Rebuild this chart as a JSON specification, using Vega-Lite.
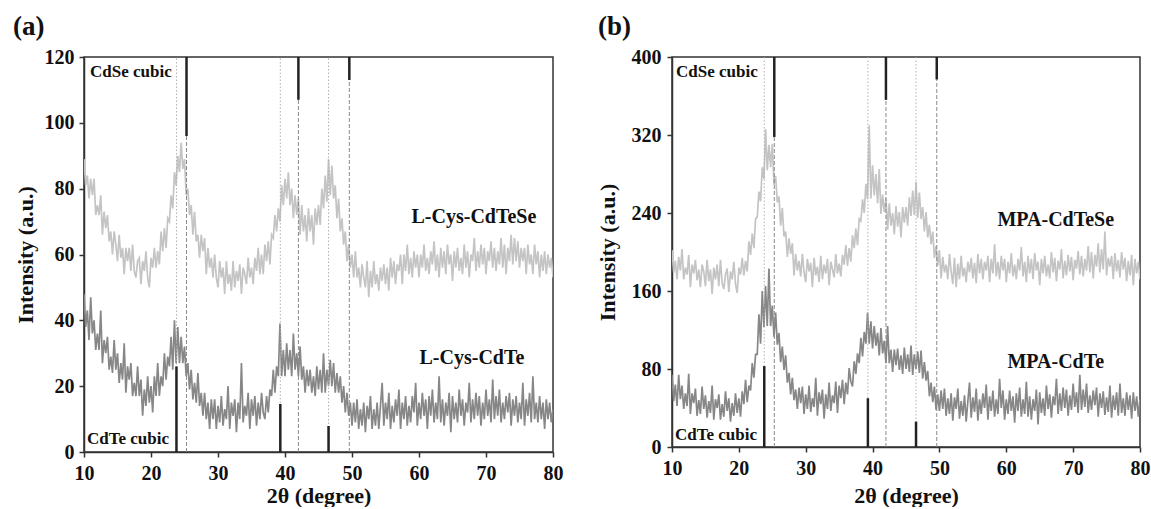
{
"$schema": "https://vega.github.io/schema/vega-lite/v6.json",
"background": "white",
"padding": {"left": 12, "top": 12, "right": 5, "bottom": 0},
"spacing": 31,
"config": {
  "font": "Liberation Serif",
  "view": {"stroke": "#333", "strokeWidth": 1.5},
  "axis": {"domainColor": "#333", "domainWidth": 1.5, "tickColor": "#333", "tickWidth": 1.5, "tickSize": 5, "labelFont": "Liberation Serif", "labelFontSize": 20, "labelFontWeight": "bold", "labelColor": "#111", "titleFont": "Liberation Serif", "titleFontSize": 22, "titleFontWeight": "bold", "titleColor": "#111", "grid": false},
  "title": {"font": "Liberation Serif", "fontSize": 27, "fontWeight": "bold", "anchor": "start", "frame": "group", "color": "#111"},
  "text": {"font": "Liberation Serif", "fontWeight": "bold", "color": "#111"}
},
"datasets": {
  "a": [
{"x":10,"t":89,"c":48},{"x":10.25,"t":81,"c":38},{"x":10.5,"t":84,"c":43},{"x":10.75,"t":77,"c":34},{"x":11,"t":83,"c":47},{"x":11.25,"t":78,"c":36},{"x":11.5,"t":83,"c":40},{"x":11.75,"t":72,"c":31},{"x":12,"t":75,"c":36},{"x":12.25,"t":72,"c":31},{"x":12.5,"t":78,"c":43},{"x":12.75,"t":66,"c":27},{"x":13,"t":73,"c":34},{"x":13.25,"t":68,"c":30},{"x":13.5,"t":72,"c":35},{"x":13.75,"t":64,"c":25},{"x":14,"t":67,"c":29},{"x":14.25,"t":60,"c":24},{"x":14.5,"t":67,"c":34},{"x":14.75,"t":63,"c":25},{"x":15,"t":58,"c":30},{"x":15.25,"t":66,"c":21},{"x":15.5,"t":59,"c":27},{"x":15.75,"t":62,"c":22},{"x":16,"t":54,"c":33},{"x":16.25,"t":62,"c":18},{"x":16.5,"t":58,"c":26},{"x":16.75,"t":62,"c":22},{"x":17,"t":55,"c":27},{"x":17.25,"t":63,"c":17},{"x":17.5,"t":55,"c":21},{"x":17.75,"t":53,"c":17},{"x":18,"t":58,"c":26},{"x":18.25,"t":59,"c":17},{"x":18.5,"t":51,"c":22},{"x":18.75,"t":58,"c":11},{"x":19,"t":55,"c":19},{"x":19.25,"t":61,"c":14},{"x":19.5,"t":53,"c":23},{"x":19.75,"t":50,"c":15},
{"x":20,"t":59,"c":20},{"x":20.25,"t":56,"c":12},{"x":20.5,"t":62,"c":23},{"x":20.75,"t":56,"c":17},{"x":21,"t":61,"c":27},{"x":21.25,"t":57,"c":17},{"x":21.5,"t":67,"c":23},{"x":21.75,"t":61,"c":20},{"x":22,"t":68,"c":30},{"x":22.25,"t":62,"c":22},{"x":22.5,"t":71,"c":29},{"x":22.75,"t":70,"c":26},{"x":23,"t":78,"c":35},{"x":23.25,"t":74,"c":25},{"x":23.5,"t":85,"c":40},{"x":23.75,"t":81,"c":27},{"x":24,"t":90,"c":38},{"x":24.25,"t":85,"c":27},{"x":24.5,"t":94,"c":35},{"x":24.75,"t":86,"c":27},{"x":25,"t":89,"c":32},{"x":25.25,"t":78,"c":23},{"x":25.5,"t":80,"c":27},{"x":25.75,"t":72,"c":19},{"x":26,"t":75,"c":25},{"x":26.25,"t":66,"c":16},{"x":26.5,"t":73,"c":21},{"x":26.75,"t":64,"c":15},{"x":27,"t":66,"c":24},{"x":27.25,"t":59,"c":14},{"x":27.5,"t":66,"c":18},{"x":27.75,"t":61,"c":11},{"x":28,"t":65,"c":18},{"x":28.25,"t":54,"c":10},{"x":28.5,"t":62,"c":15},{"x":28.75,"t":56,"c":7},{"x":29,"t":59,"c":16},{"x":29.25,"t":53,"c":10},{"x":29.5,"t":60,"c":16},{"x":29.75,"t":53,"c":7},
{"x":30,"t":50,"c":14},{"x":30.25,"t":58,"c":9},{"x":30.5,"t":53,"c":17},{"x":30.75,"t":56,"c":8},{"x":31,"t":48,"c":13},{"x":31.25,"t":58,"c":10},{"x":31.5,"t":51,"c":20},{"x":31.75,"t":54,"c":7},{"x":32,"t":49,"c":15},{"x":32.25,"t":58,"c":11},{"x":32.5,"t":50,"c":16},{"x":32.75,"t":55,"c":6},{"x":33,"t":52,"c":15},{"x":33.25,"t":57,"c":10},{"x":33.5,"t":48,"c":27},{"x":33.75,"t":56,"c":9},{"x":34,"t":54,"c":14},{"x":34.25,"t":51,"c":11},{"x":34.5,"t":59,"c":18},{"x":34.75,"t":53,"c":7},{"x":35,"t":56,"c":16},{"x":35.25,"t":51,"c":11},{"x":35.5,"t":59,"c":17},{"x":35.75,"t":55,"c":8},{"x":36,"t":62,"c":15},{"x":36.25,"t":54,"c":10},{"x":36.5,"t":60,"c":18},{"x":36.75,"t":54,"c":12},{"x":37,"t":63,"c":10},{"x":37.25,"t":58,"c":17},{"x":37.5,"t":64,"c":12},{"x":37.75,"t":57,"c":19},{"x":38,"t":66,"c":17},{"x":38.25,"t":65,"c":25},{"x":38.5,"t":72,"c":18},{"x":38.75,"t":67,"c":26},{"x":39,"t":74,"c":23},{"x":39.25,"t":70,"c":39},{"x":39.5,"t":81,"c":23},{"x":39.75,"t":75,"c":31},
{"x":40,"t":83,"c":23},{"x":40.25,"t":77,"c":33},{"x":40.5,"t":85,"c":25},{"x":40.75,"t":75,"c":31},{"x":41,"t":80,"c":23},{"x":41.25,"t":71,"c":36},{"x":41.5,"t":78,"c":25},{"x":41.75,"t":72,"c":30},{"x":42,"t":77,"c":23},{"x":42.25,"t":66,"c":32},{"x":42.5,"t":75,"c":22},{"x":42.75,"t":67,"c":26},{"x":43,"t":72,"c":18},{"x":43.25,"t":64,"c":25},{"x":43.5,"t":74,"c":20},{"x":43.75,"t":67,"c":25},{"x":44,"t":72,"c":18},{"x":44.25,"t":63,"c":23},{"x":44.5,"t":74,"c":17},{"x":44.75,"t":69,"c":26},{"x":45,"t":75,"c":19},{"x":45.25,"t":69,"c":25},{"x":45.5,"t":80,"c":18},{"x":45.75,"t":74,"c":30},{"x":46,"t":84,"c":18},{"x":46.25,"t":76,"c":25},{"x":46.5,"t":89,"c":20},{"x":46.75,"t":78,"c":28},{"x":47,"t":87,"c":20},{"x":47.25,"t":77,"c":27},{"x":47.5,"t":81,"c":18},{"x":47.75,"t":71,"c":24},{"x":48,"t":77,"c":18},{"x":48.25,"t":67,"c":23},{"x":48.5,"t":71,"c":15},{"x":48.75,"t":63,"c":20},{"x":49,"t":67,"c":12},{"x":49.25,"t":58,"c":18},{"x":49.5,"t":63,"c":11},{"x":49.75,"t":56,"c":15},
{"x":50,"t":60,"c":8},{"x":50.25,"t":53,"c":15},{"x":50.5,"t":61,"c":9},{"x":50.75,"t":53,"c":16},{"x":51,"t":56,"c":7},{"x":51.25,"t":50,"c":13},{"x":51.5,"t":57,"c":8},{"x":51.75,"t":53,"c":15},{"x":52,"t":50,"c":6},{"x":52.25,"t":58,"c":14},{"x":52.5,"t":47,"c":10},{"x":52.75,"t":55,"c":17},{"x":53,"t":50,"c":7},{"x":53.25,"t":58,"c":13},{"x":53.5,"t":51,"c":8},{"x":53.75,"t":54,"c":15},{"x":54,"t":49,"c":7},{"x":54.25,"t":56,"c":14},{"x":54.5,"t":52,"c":21},{"x":54.75,"t":57,"c":8},{"x":55,"t":51,"c":15},{"x":55.25,"t":56,"c":10},{"x":55.5,"t":49,"c":18},{"x":55.75,"t":59,"c":7},{"x":56,"t":53,"c":14},{"x":56.25,"t":58,"c":9},{"x":56.5,"t":51,"c":16},{"x":56.75,"t":57,"c":11},{"x":57,"t":55,"c":19},{"x":57.25,"t":60,"c":7},{"x":57.5,"t":51,"c":15},{"x":57.75,"t":60,"c":10},{"x":58,"t":55,"c":17},{"x":58.25,"t":63,"c":8},{"x":58.5,"t":54,"c":14},{"x":58.75,"t":59,"c":9},{"x":59,"t":53,"c":17},{"x":59.25,"t":61,"c":12},{"x":59.5,"t":56,"c":21},{"x":59.75,"t":60,"c":8},
{"x":60,"t":53,"c":15},{"x":60.25,"t":60,"c":10},{"x":60.5,"t":56,"c":18},{"x":60.75,"t":63,"c":11},{"x":61,"t":55,"c":16},{"x":61.25,"t":59,"c":7},{"x":61.5,"t":54,"c":17},{"x":61.75,"t":61,"c":11},{"x":62,"t":57,"c":19},{"x":62.25,"t":64,"c":9},{"x":62.5,"t":55,"c":15},{"x":62.75,"t":60,"c":10},{"x":63,"t":53,"c":23},{"x":63.25,"t":62,"c":9},{"x":63.5,"t":56,"c":16},{"x":63.75,"t":61,"c":8},{"x":64,"t":54,"c":15},{"x":64.25,"t":63,"c":11},{"x":64.5,"t":57,"c":18},{"x":64.75,"t":60,"c":6},{"x":65,"t":52,"c":17},{"x":65.25,"t":61,"c":10},{"x":65.5,"t":56,"c":15},{"x":65.75,"t":62,"c":9},{"x":66,"t":55,"c":19},{"x":66.25,"t":59,"c":11},{"x":66.5,"t":54,"c":16},{"x":66.75,"t":63,"c":8},{"x":67,"t":56,"c":15},{"x":67.25,"t":61,"c":12},{"x":67.5,"t":53,"c":21},{"x":67.75,"t":60,"c":9},{"x":68,"t":58,"c":16},{"x":68.25,"t":65,"c":10},{"x":68.5,"t":55,"c":18},{"x":68.75,"t":61,"c":11},{"x":69,"t":56,"c":17},{"x":69.25,"t":63,"c":8},{"x":69.5,"t":57,"c":15},{"x":69.75,"t":62,"c":10},
{"x":70,"t":54,"c":19},{"x":70.25,"t":61,"c":11},{"x":70.5,"t":58,"c":16},{"x":70.75,"t":64,"c":9},{"x":71,"t":56,"c":22},{"x":71.25,"t":62,"c":10},{"x":71.5,"t":55,"c":17},{"x":71.75,"t":61,"c":11},{"x":72,"t":57,"c":19},{"x":72.25,"t":65,"c":9},{"x":72.5,"t":56,"c":15},{"x":72.75,"t":63,"c":10},{"x":73,"t":54,"c":17},{"x":73.25,"t":62,"c":12},{"x":73.5,"t":58,"c":18},{"x":73.75,"t":66,"c":8},{"x":74,"t":57,"c":16},{"x":74.25,"t":65,"c":11},{"x":74.5,"t":58,"c":17},{"x":74.75,"t":64,"c":9},{"x":75,"t":56,"c":15},{"x":75.25,"t":62,"c":10},{"x":75.5,"t":58,"c":21},{"x":75.75,"t":62,"c":8},{"x":76,"t":54,"c":16},{"x":76.25,"t":63,"c":11},{"x":76.5,"t":57,"c":18},{"x":76.75,"t":60,"c":9},{"x":77,"t":54,"c":23},{"x":77.25,"t":63,"c":10},{"x":77.5,"t":57,"c":15},{"x":77.75,"t":61,"c":9},{"x":78,"t":53,"c":17},{"x":78.25,"t":60,"c":10},{"x":78.5,"t":55,"c":15},{"x":78.75,"t":61,"c":7},{"x":79,"t":54,"c":16},{"x":79.25,"t":60,"c":10},{"x":79.5,"t":56,"c":15},{"x":79.75,"t":59,"c":9},{"x":80,"t":53,"c":13}
  ],
  "b": [
{"x":10,"t":202,"c":74},{"x":10.25,"t":179,"c":47},{"x":10.5,"t":191,"c":64},{"x":10.75,"t":172,"c":42},{"x":11,"t":195,"c":74},{"x":11.25,"t":181,"c":49},{"x":11.5,"t":203,"c":63},{"x":11.75,"t":172,"c":39},{"x":12,"t":184,"c":55},{"x":12.25,"t":177,"c":42},{"x":12.5,"t":197,"c":75},{"x":12.75,"t":164,"c":34},{"x":13,"t":187,"c":55},{"x":13.25,"t":178,"c":45},{"x":13.5,"t":192,"c":60},{"x":13.75,"t":171,"c":32},{"x":14,"t":182,"c":48},{"x":14.25,"t":164,"c":34},{"x":14.5,"t":187,"c":62},{"x":14.75,"t":180,"c":39},{"x":15,"t":165,"c":53},{"x":15.25,"t":192,"c":30},{"x":15.5,"t":170,"c":47},{"x":15.75,"t":182,"c":35},{"x":16,"t":157,"c":63},{"x":16.25,"t":184,"c":28},{"x":16.5,"t":172,"c":49},{"x":16.75,"t":187,"c":40},{"x":17,"t":165,"c":54},{"x":17.25,"t":192,"c":28},{"x":17.5,"t":168,"c":44},{"x":17.75,"t":162,"c":31},{"x":18,"t":177,"c":57},{"x":18.25,"t":183,"c":37},{"x":18.5,"t":159,"c":50},{"x":18.75,"t":180,"c":26},{"x":19,"t":172,"c":45},{"x":19.25,"t":190,"c":32},{"x":19.5,"t":167,"c":55},{"x":19.75,"t":158,"c":35},
{"x":20,"t":184,"c":50},{"x":20.25,"t":177,"c":31},{"x":20.5,"t":194,"c":57},{"x":20.75,"t":176,"c":44},{"x":21,"t":191,"c":69},{"x":21.25,"t":180,"c":46},{"x":21.5,"t":211,"c":63},{"x":21.75,"t":197,"c":58},{"x":22,"t":219,"c":86},{"x":22.25,"t":204,"c":71},{"x":22.5,"t":234,"c":95},{"x":22.75,"t":236,"c":95},{"x":23,"t":262,"c":136},{"x":23.25,"t":252,"c":106},{"x":23.5,"t":287,"c":160},{"x":23.75,"t":275,"c":123},{"x":24,"t":326,"c":165},{"x":24.25,"t":284,"c":124},{"x":24.5,"t":310,"c":183},{"x":24.75,"t":287,"c":124},{"x":25,"t":311,"c":145},{"x":25.25,"t":269,"c":113},{"x":25.5,"t":278,"c":138},{"x":25.75,"t":251,"c":105},{"x":26,"t":257,"c":117},{"x":26.25,"t":227,"c":87},{"x":26.5,"t":245,"c":103},{"x":26.75,"t":216,"c":79},{"x":27,"t":221,"c":94},{"x":27.25,"t":195,"c":66},{"x":27.5,"t":214,"c":76},{"x":27.75,"t":198,"c":54},{"x":28,"t":209,"c":71},{"x":28.25,"t":176,"c":48},{"x":28.5,"t":198,"c":59},{"x":28.75,"t":181,"c":39},{"x":29,"t":191,"c":61},{"x":29.25,"t":175,"c":45},{"x":29.5,"t":198,"c":62},{"x":29.75,"t":179,"c":34},
{"x":30,"t":169,"c":54},{"x":30.25,"t":193,"c":39},{"x":30.5,"t":180,"c":63},{"x":30.75,"t":189,"c":36},{"x":31,"t":164,"c":50},{"x":31.25,"t":194,"c":41},{"x":31.5,"t":176,"c":71},{"x":31.75,"t":185,"c":32},{"x":32,"t":169,"c":56},{"x":32.25,"t":196,"c":44},{"x":32.5,"t":172,"c":59},{"x":32.75,"t":187,"c":29},{"x":33,"t":178,"c":54},{"x":33.25,"t":193,"c":39},{"x":33.5,"t":166,"c":66},{"x":33.75,"t":190,"c":37},{"x":34,"t":182,"c":53},{"x":34.25,"t":174,"c":45},{"x":34.5,"t":198,"c":67},{"x":34.75,"t":178,"c":35},{"x":35,"t":188,"c":63},{"x":35.25,"t":175,"c":50},{"x":35.5,"t":197,"c":69},{"x":35.75,"t":187,"c":44},{"x":36,"t":207,"c":66},{"x":36.25,"t":186,"c":54},{"x":36.5,"t":204,"c":81},{"x":36.75,"t":190,"c":67},{"x":37,"t":217,"c":62},{"x":37.25,"t":204,"c":88},{"x":37.5,"t":224,"c":75},{"x":37.75,"t":207,"c":96},{"x":38,"t":234,"c":86},{"x":38.25,"t":232,"c":112},{"x":38.5,"t":254,"c":93},{"x":38.75,"t":240,"c":118},{"x":39,"t":270,"c":106},{"x":39.25,"t":254,"c":138},{"x":39.5,"t":330,"c":106},{"x":39.75,"t":255,"c":129},
{"x":40,"t":289,"c":101},{"x":40.25,"t":258,"c":124},{"x":40.5,"t":280,"c":104},{"x":40.75,"t":250,"c":117},{"x":41,"t":285,"c":94},{"x":41.25,"t":239,"c":122},{"x":41.5,"t":259,"c":96},{"x":41.75,"t":241,"c":109},{"x":42,"t":255,"c":86},{"x":42.25,"t":223,"c":124},{"x":42.5,"t":250,"c":86},{"x":42.75,"t":227,"c":100},{"x":43,"t":240,"c":77},{"x":43.25,"t":218,"c":100},{"x":43.5,"t":247,"c":84},{"x":43.75,"t":226,"c":101},{"x":44,"t":241,"c":79},{"x":44.25,"t":215,"c":94},{"x":44.5,"t":246,"c":75},{"x":44.75,"t":230,"c":102},{"x":45,"t":246,"c":80},{"x":45.25,"t":227,"c":95},{"x":45.5,"t":256,"c":77},{"x":45.75,"t":237,"c":104},{"x":46,"t":263,"c":74},{"x":46.25,"t":238,"c":95},{"x":46.5,"t":272,"c":80},{"x":46.75,"t":235,"c":98},{"x":47,"t":261,"c":76},{"x":47.25,"t":234,"c":99},{"x":47.5,"t":246,"c":70},{"x":47.75,"t":221,"c":87},{"x":48,"t":241,"c":68},{"x":48.25,"t":215,"c":78},{"x":48.5,"t":228,"c":52},{"x":48.75,"t":208,"c":66},{"x":49,"t":221,"c":46},{"x":49.25,"t":194,"c":62},{"x":49.5,"t":206,"c":38},{"x":49.75,"t":186,"c":54},
{"x":50,"t":202,"c":37},{"x":50.25,"t":173,"c":58},{"x":50.5,"t":195,"c":39},{"x":50.75,"t":179,"c":60},{"x":51,"t":187,"c":32},{"x":51.25,"t":172,"c":50},{"x":51.5,"t":198,"c":34},{"x":51.75,"t":180,"c":55},{"x":52,"t":167,"c":27},{"x":52.25,"t":194,"c":51},{"x":52.5,"t":164,"c":39},{"x":52.75,"t":188,"c":60},{"x":53,"t":172,"c":29},{"x":53.25,"t":196,"c":47},{"x":53.5,"t":175,"c":32},{"x":53.75,"t":184,"c":53},{"x":54,"t":169,"c":26},{"x":54.25,"t":190,"c":47},{"x":54.5,"t":179,"c":66},{"x":54.75,"t":194,"c":30},{"x":55,"t":173,"c":51},{"x":55.25,"t":189,"c":36},{"x":55.5,"t":168,"c":60},{"x":55.75,"t":198,"c":27},{"x":56,"t":178,"c":49},{"x":56.25,"t":193,"c":34},{"x":56.5,"t":172,"c":55},{"x":56.75,"t":190,"c":40},{"x":57,"t":181,"c":64},{"x":57.25,"t":196,"c":28},{"x":57.5,"t":169,"c":52},{"x":57.75,"t":193,"c":37},{"x":58,"t":178,"c":58},{"x":58.25,"t":208,"c":31},{"x":58.5,"t":175,"c":49},{"x":58.75,"t":190,"c":34},{"x":59,"t":172,"c":70},{"x":59.25,"t":196,"c":40},{"x":59.5,"t":181,"c":58},{"x":59.75,"t":193,"c":28},
{"x":60,"t":169,"c":49},{"x":60.25,"t":190,"c":34},{"x":60.5,"t":178,"c":58},{"x":60.75,"t":199,"c":37},{"x":61,"t":175,"c":52},{"x":61.25,"t":187,"c":25},{"x":61.5,"t":172,"c":55},{"x":61.75,"t":193,"c":37},{"x":62,"t":181,"c":61},{"x":62.25,"t":205,"c":31},{"x":62.5,"t":175,"c":49},{"x":62.75,"t":190,"c":34},{"x":63,"t":169,"c":67},{"x":63.25,"t":196,"c":31},{"x":63.5,"t":178,"c":52},{"x":63.75,"t":193,"c":28},{"x":64,"t":172,"c":49},{"x":64.25,"t":199,"c":37},{"x":64.5,"t":181,"c":59},{"x":64.75,"t":190,"c":23},{"x":65,"t":166,"c":56},{"x":65.25,"t":193,"c":35},{"x":65.5,"t":178,"c":50},{"x":65.75,"t":196,"c":32},{"x":66,"t":175,"c":63},{"x":66.25,"t":187,"c":39},{"x":66.5,"t":173,"c":54},{"x":66.75,"t":200,"c":30},{"x":67,"t":179,"c":52},{"x":67.25,"t":194,"c":43},{"x":67.5,"t":170,"c":70},{"x":67.75,"t":191,"c":34},{"x":68,"t":182,"c":55},{"x":68.25,"t":203,"c":37},{"x":68.5,"t":173,"c":61},{"x":68.75,"t":191,"c":40},{"x":69,"t":176,"c":59},{"x":69.25,"t":197,"c":32},{"x":69.5,"t":180,"c":53},{"x":69.75,"t":195,"c":38},
{"x":70,"t":171,"c":65},{"x":70.25,"t":192,"c":41},{"x":70.5,"t":183,"c":56},{"x":70.75,"t":201,"c":35},{"x":71,"t":177,"c":74},{"x":71.25,"t":196,"c":38},{"x":71.5,"t":175,"c":59},{"x":71.75,"t":193,"c":41},{"x":72,"t":181,"c":65},{"x":72.25,"t":206,"c":35},{"x":72.5,"t":179,"c":53},{"x":72.75,"t":200,"c":38},{"x":73,"t":173,"c":58},{"x":73.25,"t":197,"c":43},{"x":73.5,"t":185,"c":61},{"x":73.75,"t":209,"c":31},{"x":74,"t":179,"c":55},{"x":74.25,"t":203,"c":40},{"x":74.5,"t":182,"c":57},{"x":74.75,"t":221,"c":33},{"x":75,"t":176,"c":51},{"x":75.25,"t":194,"c":36},{"x":75.5,"t":185,"c":63},{"x":75.75,"t":196,"c":30},{"x":76,"t":172,"c":53},{"x":76.25,"t":199,"c":38},{"x":76.5,"t":180,"c":56},{"x":76.75,"t":192,"c":32},{"x":77,"t":174,"c":65},{"x":77.25,"t":200,"c":35},{"x":77.5,"t":182,"c":50},{"x":77.75,"t":194,"c":32},{"x":78,"t":170,"c":56},{"x":78.25,"t":191,"c":38},{"x":78.5,"t":176,"c":53},{"x":78.75,"t":197,"c":29},{"x":79,"t":166,"c":56},{"x":79.25,"t":193,"c":37},{"x":79.5,"t":178,"c":52},{"x":79.75,"t":190,"c":31},{"x":80,"t":172,"c":49}
  ],
  "refA": [
    {"x":23.8,"p":"te","lo":0,"hi":26},{"x":39.3,"p":"te","lo":0,"hi":14.6},{"x":46.5,"p":"te","lo":0,"hi":7.9},
    {"x":25.3,"p":"se","lo":96,"hi":120},{"x":42.0,"p":"se","lo":107,"hi":120},{"x":49.6,"p":"se","lo":113,"hi":120}
  ],
  "refB": [
    {"x":23.8,"p":"te","lo":0,"hi":83},{"x":39.3,"p":"te","lo":0,"hi":50},{"x":46.5,"p":"te","lo":0,"hi":26},
    {"x":25.3,"p":"se","lo":318,"hi":400},{"x":42.0,"p":"se","lo":356,"hi":400},{"x":49.6,"p":"se","lo":377,"hi":400}
  ],
  "labA": [{"x":68.2,"y":71.4,"label":"L-Cys-CdTeSe"},{"x":67.9,"y":28.6,"label":"L-Cys-CdTe"}],
  "cubA": [{"x":10.9,"y":115.4,"label":"CdSe cubic"},{"x":10.45,"y":3.9,"label":"CdTe cubic"}],
  "labB": [{"x":67.4,"y":232.8,"label":"MPA-CdTeSe"},{"x":67.4,"y":87.2,"label":"MPA-CdTe"}],
  "cubB": [{"x":10.6,"y":384.6,"label":"CdSe cubic"},{"x":10.45,"y":12.3,"label":"CdTe cubic"}]
},
"hconcat": [
  {
    "width": 469, "height": 395,
    "title": {"text": "(a)", "dx": -71, "offset": 6},
    "layer": [
      {
        "data": {"name": "a"},
        "transform": [{"fold": ["t", "c"], "as": ["s", "v"]}],
        "mark": {"type": "line", "strokeWidth": 1.7, "clip": true},
        "encoding": {
          "x": {"field": "x", "type": "quantitative", "title": "2θ (degree)", "scale": {"domain": [10, 80], "nice": false, "zero": false},
                "axis": {"values": [10,15,20,25,30,35,40,45,50,55,60,65,70,75,80], "labelExpr": "datum.value % 10 == 0 ? datum.label : ''", "labelPadding": 6, "titlePadding": 2, "labelFlush": false, "labelFontWeight": "bold"}},
          "y": {"field": "v", "type": "quantitative", "title": "Intensity (a.u.)", "scale": {"domain": [0, 120], "nice": false},
                "axis": {"values": [0,10,20,30,40,50,60,70,80,90,100,110,120], "labelExpr": "datum.value % 20 == 0 ? datum.label : ''", "labelPadding": 5, "titlePadding": 7, "labelFlush": false, "labelFontWeight": "bold"}},
          "color": {"field": "s", "type": "nominal", "scale": {"domain": ["t", "c"], "range": ["#c4c4c4", "#878787"]}, "legend": null}
        }
      },
      {
        "data": {"name": "refA"},
        "transform": [{"filter": "datum.p == 'te'"}],
        "mark": {"type": "rule", "color": "#b0b0b0", "strokeWidth": 1, "strokeDash": [1.5, 2]},
        "encoding": {"x": {"field": "x", "type": "quantitative", "title": "2θ (degree)"}, "y": {"datum": 0, "type": "quantitative", "title": "Intensity (a.u.)"}, "y2": {"datum": 120}}
      },
      {
        "data": {"name": "refA"},
        "transform": [{"filter": "datum.p == 'se'"}],
        "mark": {"type": "rule", "color": "#8a8a8a", "strokeWidth": 1, "strokeDash": [4, 2]},
        "encoding": {"x": {"field": "x", "type": "quantitative", "title": "2θ (degree)"}, "y": {"datum": 0, "type": "quantitative", "title": "Intensity (a.u.)"}, "y2": {"datum": 120}}
      },
      {
        "data": {"name": "refA"},
        "mark": {"type": "rule", "color": "#222", "strokeWidth": 2.5},
        "encoding": {"x": {"field": "x", "type": "quantitative", "title": "2θ (degree)"}, "y": {"field": "lo", "type": "quantitative", "title": "Intensity (a.u.)"}, "y2": {"field": "hi"}}
      },
      {
        "data": {"name": "labA"},
        "mark": {"type": "text", "fontSize": 20, "align": "center", "baseline": "middle"},
        "encoding": {"x": {"field": "x", "type": "quantitative", "title": "2θ (degree)"}, "y": {"field": "y", "type": "quantitative", "title": "Intensity (a.u.)"}, "text": {"field": "label"}}
      },
      {
        "data": {"name": "cubA"},
        "mark": {"type": "text", "fontSize": 17, "align": "left", "baseline": "middle"},
        "encoding": {"x": {"field": "x", "type": "quantitative", "title": "2θ (degree)"}, "y": {"field": "y", "type": "quantitative", "title": "Intensity (a.u.)"}, "text": {"field": "label"}}
      }
    ]
  },
  {
    "width": 468, "height": 390,
    "title": {"text": "(b)", "dx": -74, "offset": 6},
    "layer": [
      {
        "data": {"name": "b"},
        "transform": [{"fold": ["t", "c"], "as": ["s", "v"]}],
        "mark": {"type": "line", "strokeWidth": 1.7, "clip": true},
        "encoding": {
          "x": {"field": "x", "type": "quantitative", "title": "2θ (degree)", "scale": {"domain": [10, 80], "nice": false, "zero": false},
                "axis": {"values": [10,15,20,25,30,35,40,45,50,55,60,65,70,75,80], "labelExpr": "datum.value % 10 == 0 ? datum.label : ''", "labelPadding": 6, "titlePadding": 7, "labelFlush": false, "labelFontWeight": "bold"}},
          "y": {"field": "v", "type": "quantitative", "title": "Intensity (a.u.)", "scale": {"domain": [0, 400], "nice": false},
                "axis": {"values": [0,40,80,120,160,200,240,280,320,360,400], "labelExpr": "datum.value % 80 == 0 ? datum.label : ''", "labelPadding": 6, "titlePadding": 12, "labelFlush": false, "labelFontWeight": "bold"}},
          "color": {"field": "s", "type": "nominal", "scale": {"domain": ["t", "c"], "range": ["#c6c6c6", "#808080"]}, "legend": null}
        }
      },
      {
        "data": {"name": "refB"},
        "transform": [{"filter": "datum.p == 'te'"}],
        "mark": {"type": "rule", "color": "#b0b0b0", "strokeWidth": 1, "strokeDash": [1.5, 2]},
        "encoding": {"x": {"field": "x", "type": "quantitative", "title": "2θ (degree)"}, "y": {"datum": 0, "type": "quantitative", "title": "Intensity (a.u.)"}, "y2": {"datum": 400}}
      },
      {
        "data": {"name": "refB"},
        "transform": [{"filter": "datum.p == 'se'"}],
        "mark": {"type": "rule", "color": "#8a8a8a", "strokeWidth": 1, "strokeDash": [4, 2]},
        "encoding": {"x": {"field": "x", "type": "quantitative", "title": "2θ (degree)"}, "y": {"datum": 0, "type": "quantitative", "title": "Intensity (a.u.)"}, "y2": {"datum": 400}}
      },
      {
        "data": {"name": "refB"},
        "mark": {"type": "rule", "color": "#222", "strokeWidth": 2.5},
        "encoding": {"x": {"field": "x", "type": "quantitative", "title": "2θ (degree)"}, "y": {"field": "lo", "type": "quantitative", "title": "Intensity (a.u.)"}, "y2": {"field": "hi"}}
      },
      {
        "data": {"name": "labB"},
        "mark": {"type": "text", "fontSize": 20, "align": "center", "baseline": "middle"},
        "encoding": {"x": {"field": "x", "type": "quantitative", "title": "2θ (degree)"}, "y": {"field": "y", "type": "quantitative", "title": "Intensity (a.u.)"}, "text": {"field": "label"}}
      },
      {
        "data": {"name": "cubB"},
        "mark": {"type": "text", "fontSize": 17, "align": "left", "baseline": "middle"},
        "encoding": {"x": {"field": "x", "type": "quantitative", "title": "2θ (degree)"}, "y": {"field": "y", "type": "quantitative", "title": "Intensity (a.u.)"}, "text": {"field": "label"}}
      }
    ]
  }
]
}
